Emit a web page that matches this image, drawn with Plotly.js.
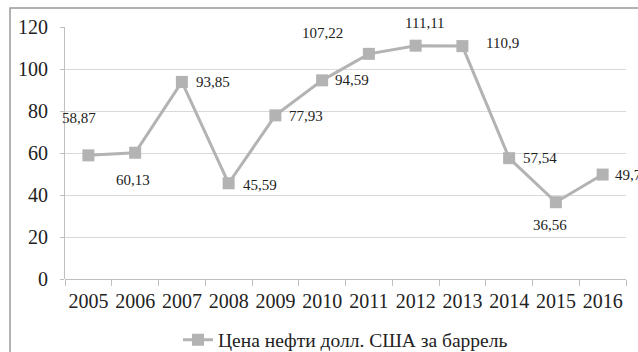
<!DOCTYPE html>
<html>
<head>
<meta charset="utf-8">
<script src="https://cdn.plot.ly/plotly-3.0.1.min.js"></script>
<style>html,body{margin:0;padding:0;background:#fff;}#chart{width:638px;height:352px;}</style>
</head>
<body>
<div id="chart"></div>
<script>
// Data
const years = ['2005','2006','2007','2008','2009','2010','2011','2012','2013','2014','2015','2016'];
const prices = [58.87, 60.13, 93.85, 45.59, 77.93, 94.59, 107.22, 111.11, 110.9, 57.54, 36.56, 49.73];
const seriesName = 'Цена нефти долл. США за баррель';
const yTicks = [0, 20, 40, 60, 80, 100, 120];

// Label offsets (px) relative to each point — style only
const labelDx = [-9, -2, 31, 31, 31, 30, -46, 9, 40, 31, -6, 29];
const labelDy = [37, -27, 0, -2, -1, 0, 21, 23, 3, 0, -23, 0];

const serif = 'Times New Roman, Liberation Serif, serif';
const grey = '#b3b3b3';

const annotations = years.map((y, i) => ({
  x: i, y: prices[i], xref: 'x', yref: 'y',
  text: String(prices[i]).replace('.', ','),
  showarrow: false,
  xshift: labelDx[i], yshift: labelDy[i],
  font: {family: serif, size: 15, color: '#222'}
}));

const trace = {
  type: 'scatter', mode: 'lines+markers',
  x: years, y: prices, name: seriesName,
  line: {color: grey, width: 3},
  marker: {symbol: 'square', size: 12, color: grey},
  cliponaxis: false
};

const layout = {
  width: 638, height: 352,
  font: {family: serif, color: '#222'},
  margin: {l: 65, r: 12, t: 27, b: 73, autoexpand: false},
  paper_bgcolor: '#fff', plot_bgcolor: '#fff',
  showlegend: true,
  legend: {orientation: 'h', x: 0.5, xanchor: 'center', y: -0.242, yanchor: 'middle',
           font: {family: serif, size: 19.5, color: '#222'}},
  xaxis: {
    type: 'category', categoryorder: 'array', categoryarray: years,
    range: [-0.5, years.length - 0.5], autorange: false,
    tickson: 'boundaries', tickangle: 0,
    ticks: 'outside', ticklen: 6, tickcolor: '#bfbfbf',
    showline: false, showgrid: false, zeroline: false,
    ticklabelstandoff: 8,
    tickfont: {family: serif, size: 20, color: '#222'}
  },
  yaxis: {
    range: [0, 120], autorange: false, tickvals: yTicks,
    ticks: 'outside', ticklen: 4, tickcolor: '#bfbfbf',
    showline: true, linecolor: '#bfbfbf', linewidth: 1,
    gridcolor: '#d9d9d9', gridwidth: 1,
    zeroline: true, zerolinecolor: '#bfbfbf', zerolinewidth: 1,
    ticklabelstandoff: 8,
    tickfont: {family: serif, size: 20, color: '#222'}
  },
  annotations: annotations,
  shapes: [{
    type: 'path', xref: 'paper', yref: 'paper',
    path: 'M -0.098 -0.4 L -0.098 1.075 L 1.1 1.075',
    line: {color: '#999', width: 1.5}
  }]
};

Plotly.newPlot('chart', [trace], layout, {staticPlot: true, displayModeBar: false});
</script>
</body>
</html>
